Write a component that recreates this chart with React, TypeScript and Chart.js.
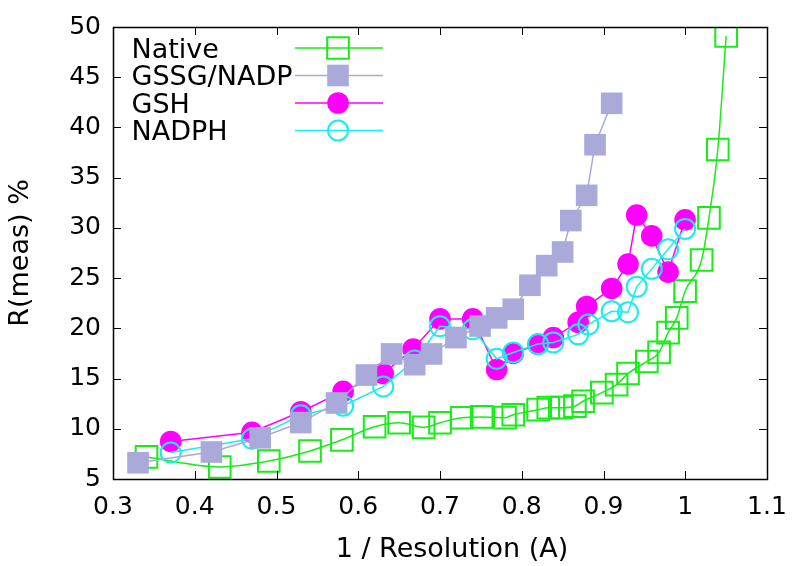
import React, { useEffect, useRef } from 'react';
import { Chart, registerables } from 'chart.js';

Chart.register(...registerables);

// ---- Data ----
const xTicks = [0.3, 0.4, 0.5, 0.6, 0.7, 0.8, 0.9, 1.0, 1.1];
const yTicks = [5, 10, 15, 20, 25, 30, 35, 40, 45, 50];

const seriesNames = ['Native', 'GSSG/NADP', 'GSH', 'NADPH'];
const xTitle = '1 / Resolution (A)';
const yTitle = 'R(meas) %';

const nativeX = [0.341, 0.4306, 0.4906, 0.541, 0.58, 0.62, 0.65, 0.68, 0.7, 0.7265, 0.751, 0.7795, 0.7896, 0.82, 0.8324, 0.849, 0.865, 0.875, 0.898, 0.916, 0.93, 0.953, 0.968, 0.979, 0.9896, 0.9998, 1.02, 1.029, 1.0398, 1.05];
const nativeY = [7.2, 6.2, 6.79, 7.79, 8.9, 10.2, 10.6, 10.14, 10.6, 11.1, 11.18, 11.11, 11.4, 11.9, 12.1, 12.1, 12.25, 12.74, 13.6, 14.4, 15.5, 16.7, 17.6, 19.57, 21.04, 23.7, 26.8, 31.0, 37.8, 49.1];

const gssgX = [0.3306, 0.4204, 0.48, 0.5297, 0.5735, 0.61, 0.6408, 0.669, 0.6897, 0.7195, 0.749, 0.7693, 0.7896, 0.81, 0.8305, 0.85, 0.86, 0.8794, 0.8896, 0.91];
const gssgY = [6.62, 7.69, 9.1, 10.62, 12.57, 15.35, 17.45, 16.38, 17.45, 19.08, 20.23, 21.04, 21.9, 24.29, 26.24, 27.6, 30.73, 33.24, 38.28, 42.4];

const gshX = [0.3706, 0.47, 0.5297, 0.5815, 0.6305, 0.667, 0.7, 0.74, 0.7693, 0.7896, 0.82, 0.8386, 0.869, 0.8794, 0.91, 0.93, 0.9406, 0.959, 0.979, 0.9998];
const gshY = [8.74, 9.65, 11.7, 13.72, 15.5, 17.94, 20.94, 20.94, 15.9, 17.5, 18.4, 19.08, 20.6, 22.18, 23.97, 26.4, 31.28, 29.2, 25.6, 30.8];

const nadphX = [0.3706, 0.47, 0.5297, 0.5815, 0.6305, 0.669, 0.7, 0.74, 0.7693, 0.7896, 0.82, 0.8386, 0.869, 0.8814, 0.91, 0.93, 0.9406, 0.959, 0.979, 0.9998];
const nadphY = [7.63, 9.0, 11.34, 12.3, 14.2, 16.81, 20.2, 19.9, 16.97, 17.6, 18.43, 18.6, 19.4, 20.38, 21.7, 21.6, 24.13, 25.92, 27.87, 29.9];

const FONT = '"DejaVu Sans", "Liberation Sans", sans-serif';
const TICK_SIZE = 25;
const LABEL_SIZE = 27;

const toPoints = (xs: number[], ys: number[]) => xs.map((x, i) => ({ x, y: ys[i] }));

const frameTicksPlugin = {
  id: 'frameTicks',
  afterDatasetsDraw(chart: any) {
    const { ctx, chartArea } = chart;
    const { left, right, top, bottom } = chartArea;
    const xs = chart.scales.x;
    const ys = chart.scales.y;
    const tl = 8;
    ctx.save();
    ctx.strokeStyle = '#000';
    ctx.lineWidth = 1;
    ctx.beginPath();
    xTicks.forEach((v) => {
      const px = Math.round(xs.getPixelForValue(v)) + 0.5;
      ctx.moveTo(px, bottom);
      ctx.lineTo(px, bottom - tl);
      ctx.moveTo(px, top);
      ctx.lineTo(px, top + tl);
    });
    yTicks.forEach((v) => {
      const py = Math.round(ys.getPixelForValue(v)) + 0.5;
      ctx.moveTo(left, py);
      ctx.lineTo(left + tl, py);
      ctx.moveTo(right, py);
      ctx.lineTo(right - tl, py);
    });
    ctx.stroke();
    ctx.lineWidth = 1.5;
    ctx.strokeRect(Math.round(left) + 0.5, Math.round(top) + 0.5, Math.round(right - left), Math.round(bottom - top));
    ctx.restore();
  },
};

const xTitlePlugin = {
  id: 'xTitle',
  afterDraw(chart: any) {
    const { ctx, chartArea } = chart;
    ctx.save();
    ctx.font = `${LABEL_SIZE}px ${FONT}`;
    ctx.fillStyle = '#000';
    ctx.textAlign = 'center';
    ctx.textBaseline = 'alphabetic';
    ctx.fillText(xTitle, (chartArea.left + chartArea.right) / 2 + 12, chartArea.bottom + 78);
    ctx.restore();
  },
};

const legendPlugin = {
  id: 'gpLegend',
  afterDraw(chart: any) {
    const { ctx, chartArea } = chart;
    const datasets = chart.data.datasets;
    ctx.save();
    ctx.font = `${LABEL_SIZE}px ${FONT}`;
    ctx.textBaseline = 'alphabetic';
    ctx.textAlign = 'left';
    datasets.forEach((ds: any, i: number) => {
      const cy = chartArea.top + 21 + i * 27.5;
      ctx.fillStyle = '#000';
      ctx.fillText(ds.label, chartArea.left + 18.5, cy + 9.5);
      const x0 = chartArea.left + 182;
      const x1 = chartArea.left + 270;
      const mx = chartArea.left + 225;
      ctx.strokeStyle = ds.borderColor;
      ctx.lineWidth = ds.borderWidth;
      ctx.beginPath();
      ctx.moveTo(x0, cy);
      ctx.lineTo(x1, cy);
      ctx.stroke();
      const r = ds.pointRadius;
      ctx.lineWidth = ds.pointBorderWidth;
      ctx.strokeStyle = ds.pointBorderColor;
      ctx.fillStyle = ds.pointBackgroundColor;
      ctx.beginPath();
      if (ds.pointStyle === 'rect') {
        const h = r * Math.SQRT1_2;
        ctx.rect(mx - h, cy - h, 2 * h, 2 * h);
      } else {
        ctx.arc(mx, cy, r, 0, Math.PI * 2);
      }
      if (ds.pointBackgroundColor !== 'transparent') ctx.fill();
      if (ds.pointBorderWidth > 0) ctx.stroke();
    });
    ctx.restore();
  },
};

export default function App() {
  const canvasRef = useRef<HTMLCanvasElement | null>(null);

  useEffect(() => {
    document.body.style.margin = '0';
    const canvas = canvasRef.current;
    if (!canvas) return;
    Chart.defaults.font.family = FONT;
    const green = '#18ec18';
    const lavender = '#a9a9da';
    const magenta = '#ff00ff';
    const cyan = '#16eeee';

    const chart = new Chart(canvas, {
      type: 'line',
      data: {
        datasets: [
          {
            label: seriesNames[0],
            data: toPoints(nativeX, nativeY),
            borderColor: green,
            borderWidth: 1.5,
            pointStyle: 'rect',
            pointRadius: 15.3,
            pointBorderWidth: 2,
            pointBorderColor: green,
            pointBackgroundColor: 'transparent',
            backgroundColor: 'transparent',
            cubicInterpolationMode: 'monotone',
            order: 4,
          } as any,
          {
            label: seriesNames[1],
            data: toPoints(gssgX, gssgY),
            borderColor: lavender,
            borderWidth: 1.5,
            pointStyle: 'rect',
            pointRadius: 15.3,
            pointBorderWidth: 0,
            pointBorderColor: lavender,
            pointBackgroundColor: lavender,
            backgroundColor: lavender,
            tension: 0,
            order: 1,
          } as any,
          {
            label: seriesNames[2],
            data: toPoints(gshX, gshY),
            borderColor: magenta,
            borderWidth: 1.5,
            pointStyle: 'circle',
            pointRadius: 10.8,
            pointBorderWidth: 0,
            pointBorderColor: magenta,
            pointBackgroundColor: magenta,
            backgroundColor: magenta,
            tension: 0,
            order: 3,
          } as any,
          {
            label: seriesNames[3],
            data: toPoints(nadphX, nadphY),
            borderColor: cyan,
            borderWidth: 1.5,
            pointStyle: 'circle',
            pointRadius: 10,
            pointBorderWidth: 2,
            pointBorderColor: cyan,
            pointBackgroundColor: 'transparent',
            backgroundColor: 'transparent',
            tension: 0,
            order: 2,
          } as any,
        ],
      },
      options: {
        animation: false,
        responsive: false,
        devicePixelRatio: 1,
        parsing: false as any,
        layout: { padding: { left: 0, top: 18, right: 33, bottom: 0 } },
        plugins: {
          legend: { display: false },
          tooltip: { enabled: false },
        },
        scales: {
          x: {
            type: 'linear',
            min: 0.3,
            max: 1.1,
            grid: { display: false, drawTicks: false },
            border: { display: false },
            afterBuildTicks: (scale: any) => {
              scale.ticks = xTicks.map((v) => ({ value: v }));
            },
            afterFit: (scale: any) => {
              scale.height = 87;
            },
            ticks: {
              color: '#000',
              padding: 13,
              maxRotation: 0,
              autoSkip: false,
              font: { size: TICK_SIZE, family: FONT },
              callback: (v: any) => String(Number(Number(v).toFixed(1))),
            },
            title: { display: false },
          },
          y: {
            type: 'linear',
            min: 5,
            max: 50,
            grid: { display: false, drawTicks: false },
            border: { display: false },
            afterBuildTicks: (scale: any) => {
              scale.ticks = yTicks.map((v) => ({ value: v }));
            },
            afterFit: (scale: any) => {
              scale.width = 113;
            },
            ticks: {
              color: '#000',
              padding: 12,
              autoSkip: false,
              font: { size: TICK_SIZE, family: FONT },
              callback: (v: any) => String(v),
            },
            title: {
              display: true,
              text: yTitle,
              color: '#000',
              font: { size: LABEL_SIZE, family: FONT },
              padding: { top: 4.5, bottom: 0 },
            },
          },
        },
      },
      plugins: [frameTicksPlugin, xTitlePlugin, legendPlugin],
    });

    return () => {
      chart.destroy();
    };
  }, []);

  return (
    <div style={{ width: 800, height: 566, position: 'relative', background: '#fff' }}>
      <canvas ref={canvasRef} width={800} height={566} style={{ display: 'block' }} />
    </div>
  );
}
